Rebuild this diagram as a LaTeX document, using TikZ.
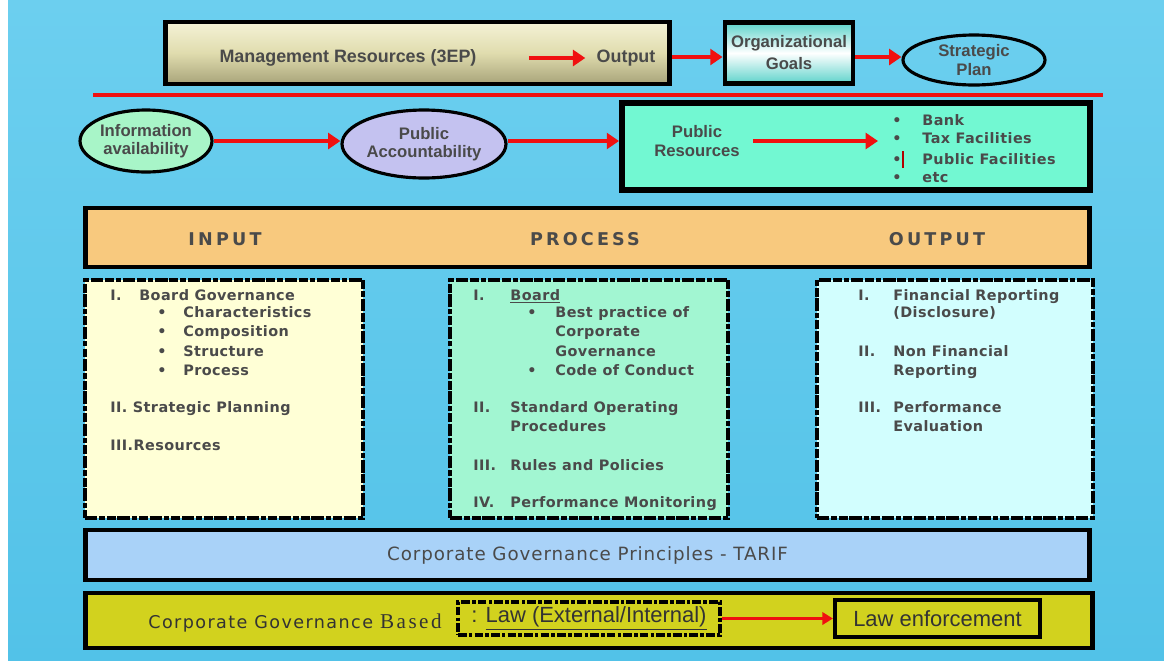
\documentclass[tikz,border=0pt]{standalone}
\usepackage{fontspec}
\setmainfont{DejaVu Sans}
\newfontfamily\narrowfont{Liberation Sans}
\newfontfamily\listfont{DejaVu Sans}[LetterSpace=3]
\newfontfamily\wideserif{Liberation Serif}[LetterSpace=12]
\usetikzlibrary{positioning}
\usetikzlibrary{arrows.meta}
\usetikzlibrary{shapes.geometric}
\definecolor{bgtop}{HTML}{6CCFEF}
\definecolor{bgbot}{HTML}{52C2E8}
\definecolor{khakilight}{HTML}{F4F2D6}
\definecolor{khakimid}{HTML}{E0DCAE}
\definecolor{khakidark}{HTML}{A8A47A}
\definecolor{tealedge}{HTML}{5ED3CB}
\definecolor{mintgreen}{HTML}{A8F5C8}
\definecolor{lavender}{HTML}{C4C2F0}
\definecolor{aquagreen}{HTML}{72F8D2}
\definecolor{ipoorange}{HTML}{F8C97E}
\definecolor{inyellow}{HTML}{FFFFD6}
\definecolor{procgreen}{HTML}{A2F6D2}
\definecolor{outcyan}{HTML}{D2FEFE}
\definecolor{tarifblue}{HTML}{A9D2F8}
\definecolor{lawyellow}{HTML}{D2D21E}
\definecolor{txtgray}{HTML}{4A4A4A}
\definecolor{arrowred}{HTML}{F01010}
\tikzset{
    mybox/.style = {rectangle, draw=black, line width=2.8pt, inner sep=0pt},
    mybox k/.style = {mybox, top color=khakilight, bottom color=khakidark, middle color=khakimid},
    mybox t/.style = {mybox, top color=tealedge, bottom color=tealedge, middle color=white},
    myellipse/.style = {ellipse, draw=black, line width=1.8pt, inner sep=0pt, align=center,
        font=\narrowfont\bfseries\fontsize{9.5}{10.5}\selectfont, text=txtgray},
    mydash/.style = {rectangle, draw=black, line width=2.6pt, inner sep=0pt,
        dash pattern=on 7pt off 1.2pt on 3pt off 1.2pt on 5pt off 1pt},
    toptxt/.style = {inner sep=0pt, align=center, text=txtgray,
        font=\narrowfont\bfseries\fontsize{9.5}{10.5}\selectfont},
    itemtxt/.style = {anchor=base west, inner sep=0pt, text=txtgray,
        font=\listfont\bfseries\fontsize{8.2}{10}\selectfont},
    headtxt/.style = {inner sep=0pt, text=txtgray,
        font=\listfont\bfseries\fontsize{10}{12}\selectfont\addfontfeature{LetterSpace=18}},
    edger/.style = {-{Triangle[length=7pt,width=9pt]}, line width=2.6pt, arrowred},
    edgert/.style = {-{Triangle[length=6pt,width=7pt]}, line width=1.6pt, arrowred}
}
\begin{document}
\begin{tikzpicture}[x=0.02cm, y=-0.02cm]
  \useasboundingbox (0,0) rectangle (1164,667);
  \fill[white] (0,0) rectangle (1164,667);
  \shade[top color=bgtop, bottom color=bgbot] (8,0) rectangle (1164,660);

  % top row
  \node[mybox k, minimum width=10.1cm, minimum height=1.24cm] (mgmt) at (417.5,53) {};
  \node[toptxt, font=\narrowfont\bfseries\fontsize{10.2}{12}\selectfont] (res) at (348,58) {Management Resources (3EP)};
  \node[toptxt, font=\narrowfont\bfseries\fontsize{10.2}{12}\selectfont] (out) at (626,58) {Output};
  \node[mybox t, minimum width=2.56cm, minimum height=1.22cm, align=center,
        font=\narrowfont\bfseries\fontsize{9.5}{12.5}\selectfont, text=txtgray] (goals) at (789,53) {Organizational\\Goals};
  \node[myellipse, minimum width=2.84cm, minimum height=1.0cm] (plan) at (974,60) {Strategic\\Plan};
  \draw[edger, shorten <=1.04cm, shorten >=0.22cm] (res.east) -- (out.west);
  \draw[edger] ([yshift=-0.08cm]mgmt.east) -- ([yshift=-0.08cm]goals.west);
  \draw[edger] ([yshift=-0.08cm]goals.east) -- ([yshift=-0.08cm]goals.east -| plan.west);

  \draw[arrowred, line width=2.3pt] (93,95) -- (1103,95);

  % second row
  \node[myellipse, fill=mintgreen, minimum width=2.64cm, minimum height=1.24cm] (info) at (146,141) {Information\\availability};
  \node[myellipse, fill=lavender, minimum width=3.28cm, minimum height=1.36cm] (acc) at (424,144) {Public\\Accountability};
  \node[mybox, fill=aquagreen, line width=3.4pt, minimum width=9.36cm, minimum height=1.74cm] (pubres) at (856,146.5) {};
  \node[toptxt] (prtxt) at (697,141) {Public\\Resources};
  \draw[edger] (info.east) -- (info.east -| acc.west);
  \draw[edger] (acc.east |- info.east) -- (info.east -| pubres.west);
  \coordinate (blist) at (878,141);
  \draw[edger, shorten <=0.26cm] (prtxt.east) -- (blist);
  \node[itemtxt] (b1) at (892,125) {\textbullet};
  \node[itemtxt] (b2) at (892,143) {\textbullet};
  \node[itemtxt] (b3) at (892,164) {\textbullet};
  \node[itemtxt] (b4) at (892,182) {\textbullet};
  \node[itemtxt] (bank) at (922,125) {Bank};
  \node[itemtxt] (tax) at (922,143) {Tax Facilities};
  \node[itemtxt] (pubfac) at (922,164) {Public Facilities};
  \node[itemtxt] (etc) at (922,182) {etc};
  \draw[red!70!black, line width=1pt] (903,151) -- (903,168);

  % input / process / output
  \node[mybox, fill=ipoorange, minimum width=20.1cm, minimum height=1.18cm] (ipo) at (587.5,237.5) {};
  \node[headtxt] (hin) at (225,239) {INPUT};
  \node[headtxt] (hproc) at (585,239) {PROCESS};
  \node[headtxt] (hout) at (937,239) {OUTPUT};

  \node[mydash, fill=inyellow, minimum width=5.56cm, minimum height=4.76cm] (inbox) at (224,399) {};
  \node[mydash, fill=procgreen, minimum width=5.56cm, minimum height=4.76cm] (procbox) at (589,399) {};
  \node[mydash, fill=outcyan, minimum width=5.52cm, minimum height=4.76cm] (outbox) at (955,399) {};

  % input list
  \node[itemtxt] (in1) at (110,300) {I.};
  \node[itemtxt] (in1t) at (139,300) {Board Governance};
  \node[itemtxt] (in1a) at (157,317) {\textbullet};
  \node[itemtxt] (in1b) at (157,336) {\textbullet};
  \node[itemtxt] (in1c) at (157,356) {\textbullet};
  \node[itemtxt] (in1d) at (157,375) {\textbullet};
  \node[itemtxt] (char) at (183,317) {Characteristics};
  \node[itemtxt] (comp) at (183,336) {Composition};
  \node[itemtxt] (struct) at (183,356) {Structure};
  \node[itemtxt] (proc) at (183,375) {Process};
  \node[itemtxt] (in2) at (110,412) {II. Strategic Planning};
  \node[itemtxt] (in3) at (110,450) {III.Resources};

  % process list
  \node[itemtxt] (pr1) at (473,300) {I.};
  \node[itemtxt] (pr1t) at (510,300) {\underline{Board}};
  \node[itemtxt] (pr1a) at (527,317) {\textbullet};
  \node[itemtxt] (pr1b) at (527,375) {\textbullet};
  \node[itemtxt] (best) at (555,317) {Best practice of};
  \node[itemtxt] (corp) at (555,336) {Corporate};
  \node[itemtxt] (gov) at (555,356) {Governance};
  \node[itemtxt] (code) at (555,375) {Code of Conduct};
  \node[itemtxt] (pr2) at (473,412) {II.};
  \node[itemtxt] (sop) at (510,412) {Standard Operating};
  \node[itemtxt] (sop2) at (510,431) {Procedures};
  \node[itemtxt] (pr3) at (473,470) {III.};
  \node[itemtxt] (rules) at (510,470) {Rules and Policies};
  \node[itemtxt] (pr4) at (473,507) {IV.};
  \node[itemtxt] (mon) at (510,507) {Performance Monitoring};

  % output list
  \node[itemtxt] (ou1) at (858,300) {I.};
  \node[itemtxt] (fin) at (893,300) {Financial Reporting};
  \node[itemtxt] (disc) at (893,317) {(Disclosure)};
  \node[itemtxt] (ou2) at (858,356) {II.};
  \node[itemtxt] (nonfin) at (893,356) {Non Financial};
  \node[itemtxt] (rep) at (893,375) {Reporting};
  \node[itemtxt] (ou3) at (858,412) {III.};
  \node[itemtxt] (perf) at (893,412) {Performance};
  \node[itemtxt] (eval) at (893,431) {Evaluation};

  % bottom bars
  \node[mybox, fill=tarifblue, minimum width=20.1cm, minimum height=1.0cm,
        font=\listfont\fontsize{10.4}{12}\selectfont\addfontfeature{LetterSpace=5}, text=txtgray] (tarif) at (587.5,555) {Corporate Governance Principles - TARIF};
  \node[mybox, fill=lawyellow, minimum width=20.16cm, minimum height=1.1cm] (basis) at (589,620.5) {};
  \node[anchor=base west, inner sep=0pt, text=black!80,
        font=\listfont\fontsize{10}{12}\selectfont\addfontfeature{LetterSpace=8}] (cgb) at (148,628) {Corporate Governance \wideserif\fontsize{12}{14}\selectfont Based};
  \node[rectangle, draw=black, line width=1.8pt, dash pattern=on 5pt off 1.2pt on 2pt off 1.2pt,
        minimum width=5.24cm, minimum height=0.66cm, inner sep=0pt,
        font=\narrowfont\fontsize{12.5}{14}\selectfont, text=black!80] (law) at (589,618.5) {: \underline{Law (External/Internal)}};
  \node[rectangle, draw=black, line width=2.4pt, minimum width=4.1cm, minimum height=0.74cm, inner sep=0pt,
        font=\narrowfont\fontsize{12.5}{14}\selectfont, text=black!80] (enf) at (937.5,618.5) {Law enforcement};
  \draw[edgert] (law.east) -- (enf.west);
\end{tikzpicture}
\end{document}
